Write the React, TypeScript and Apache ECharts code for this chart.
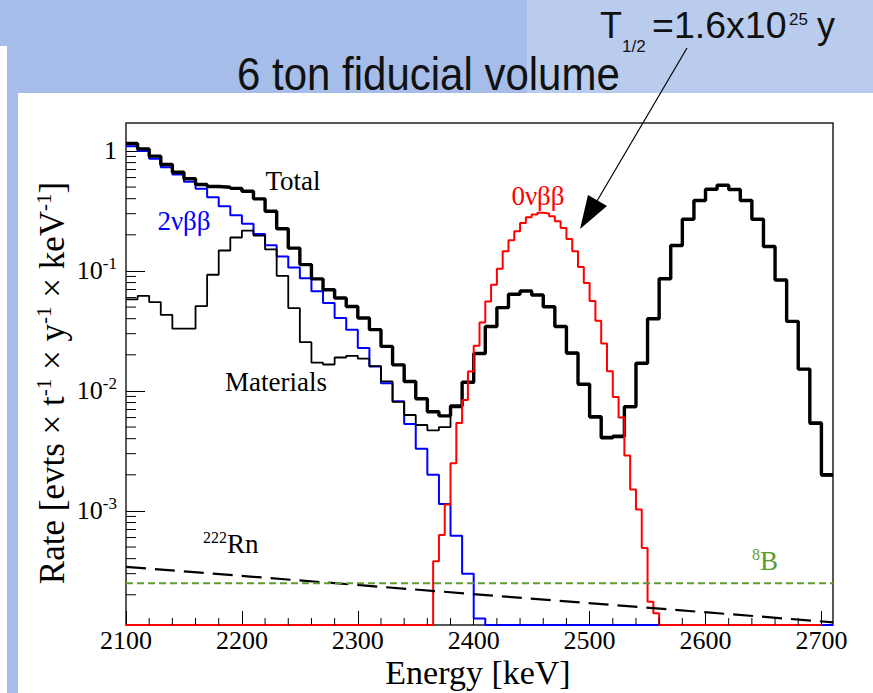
import React, { useEffect, useRef } from "react";
import * as echarts from "echarts";

const ENERGY_START = 2100;
const ENERGY_END = 2710;
const BIN_WIDTH = 10;
const ZERO_NU_START = 2365;
const ZERO_NU_BIN = 5;
const ZERO_NU_RANGE_END = 2700;
const RATE_MIN = 1.12e-4;
const RATE_MAX = 1.71;

// 10 keV bins starting at 2100 keV
const totalRate = [
  1.155, 1.04, 0.905, 0.771, 0.665, 0.586, 0.525, 0.505, 0.499, 0.488,
  0.462, 0.399, 0.314, 0.225, 0.155, 0.113, 0.0858, 0.0698, 0.0595, 0.0506,
  0.0405, 0.0324, 0.0235, 0.0165, 0.012, 0.0086, 0.0067, 0.0062, 0.0075, 0.0118,
  0.0205, 0.0344, 0.0495, 0.064, 0.068, 0.063, 0.0503, 0.0344, 0.0207, 0.0114,
  0.0061, 0.0041, 0.0042, 0.0074, 0.017, 0.04, 0.086, 0.163, 0.27, 0.387,
  0.48, 0.518, 0.477, 0.387, 0.27, 0.16, 0.084, 0.038, 0.0152, 0.0054,
  0.002,
];
const twoNuRate = [
  1.097, 1.0, 0.86, 0.733, 0.636, 0.553, 0.484, 0.411, 0.346, 0.291,
  0.247, 0.203, 0.164, 0.132, 0.107, 0.087, 0.0676, 0.054, 0.0405, 0.0324,
  0.0228, 0.016, 0.0116, 0.0082, 0.0053, 0.0033, 0.002, 0.00114, 0.00062, 0.0003,
  0.000127, 0, 0, 0, 0, 0, 0, 0, 0, 0,
  0, 0, 0, 0, 0, 0, 0, 0, 0, 0,
  0, 0, 0, 0, 0, 0, 0, 0, 0, 0,
  0,
];
const materialsRate = [
  0.058, 0.062, 0.055, 0.043, 0.033, 0.033, 0.051, 0.093, 0.148, 0.19,
  0.217, 0.197, 0.151, 0.091, 0.049, 0.0255, 0.0172, 0.0166, 0.019, 0.0196,
  0.0186, 0.0161, 0.012, 0.0081, 0.0063, 0.0052, 0.0047, 0.005, 0.0073, 0.0116,
  0.0203, 0.0342, 0.0493, 0.0638, 0.0678, 0.0628, 0.0501, 0.0342, 0.0205, 0.0112,
  0.006, 0.004, 0.0041, 0.0073, 0.0169, 0.0398, 0.0858, 0.1625, 0.2695, 0.3865,
  0.4795, 0.5175, 0.4765, 0.3865, 0.2695, 0.1595, 0.0838, 0.0378, 0.0151, 0.0053,
  0.00196,
];
// 5 keV bins starting at 2365 keV
const zeroNuRate = [
  3.8e-4, 6.3e-4, 1.13e-3, 2.5e-3, 5.4e-3, 8.4e-3, 0.0145, 0.0238, 0.0372, 0.0557,
  0.0769, 0.1045, 0.146, 0.18, 0.214, 0.251, 0.28, 0.295, 0.305, 0.301,
  0.286, 0.26, 0.228, 0.185, 0.146, 0.108, 0.0793, 0.0562, 0.0384, 0.0248,
  0.0146, 0.0089, 0.006, 0.0029, 0.00151, 0.00103, 4.9e-4, 1.75e-4, 1.4e-4,
];
const radonEnergy = [2100, 2710];
const radonRate = [3.42e-4, 1.18e-4];
const boronEnergy = [2100, 2710];
const boronRate = [2.49e-4, 2.49e-4];

const xMinorTickValues = [
  2120, 2140, 2160, 2180, 2220, 2240, 2260, 2280, 2320, 2340, 2360, 2380,
  2420, 2440, 2460, 2480, 2520, 2540, 2560, 2580, 2620, 2640, 2660, 2680,
];
const yMinorTickValues = [
  2e-4, 3e-4, 4e-4, 5e-4, 6e-4, 7e-4, 8e-4, 9e-4,
  2e-3, 3e-3, 4e-3, 5e-3, 6e-3, 7e-3, 8e-3, 9e-3,
  2e-2, 3e-2, 4e-2, 5e-2, 6e-2, 7e-2, 8e-2, 9e-2,
  0.2, 0.3, 0.4, 0.5, 0.6, 0.7, 0.8, 0.9,
];

const SERIF = "Liberation Serif";
const SANS = "Liberation Sans";

const floorOf = (v: number) => (v > 0 ? v : RATE_MIN);
function histogram(start: number, width: number, vals: number[]) {
  const pts: number[][] = vals.map((v, i) => [start + i * width, floorOf(v)]);
  pts.push([start + vals.length * width, floorOf(vals[vals.length - 1])]);
  return pts;
}

function tickSeries(data: number[][], dx: number, dy: number) {
  return {
    type: "custom",
    silent: true,
    clip: false,
    z: 10,
    data,
    renderItem: (_params: any, api: any) => {
      const p = api.coord([api.value(0), api.value(1)]);
      return {
        type: "line",
        shape: { x1: p[0], y1: p[1], x2: p[0] + dx, y2: p[1] + dy },
        style: { stroke: "#000", lineWidth: 1 },
      };
    },
  };
}

function histSeries(name: string, data: number[][], color: string, width: number) {
  return {
    name,
    type: "line",
    step: "end",
    symbol: "none",
    showSymbol: false,
    clip: false,
    silent: true,
    data,
    lineStyle: { color, width },
  };
}

const centered = { align: "center", verticalAlign: "middle", textAlign: "center", textVerticalAlign: "middle" };
const leftMid = { align: "left", verticalAlign: "middle", textAlign: "left", textVerticalAlign: "middle" };

export default function App() {
  const ref = useRef<HTMLDivElement>(null);
  useEffect(() => {
    if (!ref.current) return;
    const chart = echarts.init(ref.current, undefined, { renderer: "svg" });

    const zeroNuPoints = [
      [ENERGY_START, RATE_MIN],
      ...histogram(ZERO_NU_START, ZERO_NU_BIN, zeroNuRate),
      [ZERO_NU_START + zeroNuRate.length * ZERO_NU_BIN, RATE_MIN],
      [ZERO_NU_RANGE_END, RATE_MIN],
    ];

    const supRich = {
      n: { fontFamily: SERIF, fontSize: 26, lineHeight: 26, color: "#000" },
      e: { fontFamily: SERIF, fontSize: 17, lineHeight: 17, padding: [0, 0, 14, 0], color: "#000" },
    };

    const option: any = {
      animation: false,
      backgroundColor: "#fff",
      textStyle: { fontFamily: SERIF },
      grid: {
        left: 126,
        top: 123,
        width: 707,
        height: 502,
        show: true,
        borderColor: "#222",
        borderWidth: 1.5,
        backgroundColor: "#fff",
        containLabel: false,
      },
      xAxis: {
        type: "value",
        min: ENERGY_START,
        max: ENERGY_END,
        interval: 100,
        axisLine: { show: false },
        splitLine: { show: false },
        axisTick: { show: true, inside: true, length: 14, lineStyle: { color: "#000", width: 1 } },
        axisLabel: {
          showMaxLabel: false,
          margin: 5,
          formatter: (v: number) => "{n|" + String(Math.round(v)) + "}",
          rich: {
            n: { fontFamily: SERIF, fontSize: 26, lineHeight: 20, color: "#000" },
          },
        },
      },
      yAxis: {
        type: "log",
        logBase: 10,
        min: RATE_MIN,
        max: RATE_MAX,
        axisLine: { show: false },
        splitLine: { show: false },
        axisTick: { show: true, inside: true, length: 19, lineStyle: { color: "#000", width: 1 } },
        axisLabel: {
          showMinLabel: false,
          showMaxLabel: false,
          margin: 9,
          formatter: (v: number) => {
            const e = Math.round(Math.log10(v));
            if (e === 0) return "{n|1}";
            return "{n|10}{e|" + e + "}";
          },
          rich: supRich,
        },
      },
      series: [
        histSeries("2νββ", histogram(ENERGY_START, BIN_WIDTH, twoNuRate), "#0000ff", 2),
        histSeries("Materials", histogram(ENERGY_START, BIN_WIDTH, materialsRate), "#000", 1.8),
        histSeries("Total", histogram(ENERGY_START, BIN_WIDTH, totalRate), "#000", 3.4),
        histSeries("0νββ", zeroNuPoints, "#ff0000", 2),
        {
          name: "222Rn",
          type: "line",
          symbol: "none",
          silent: true,
          data: radonEnergy.map((e, i) => [e, radonRate[i]]),
          lineStyle: { color: "#000", width: 2.2, type: [20, 9] },
        },
        {
          name: "8B",
          type: "line",
          symbol: "none",
          silent: true,
          data: boronEnergy.map((e, i) => [e, boronRate[i]]),
          lineStyle: { color: "#5e9c2e", width: 2, type: [7, 4] },
        },
        tickSeries(xMinorTickValues.map((v) => [v, RATE_MIN]), 0, -7),
        tickSeries(yMinorTickValues.map((v) => [ENERGY_START, v]), 10, 0),
      ],
      graphic: [
        { type: "rect", z: -10, silent: true, shape: { x: 0, y: 0, width: 527, height: 46 }, style: { fill: "#a5bde8" } },
        { type: "rect", z: -10, silent: true, shape: { x: 7, y: 46, width: 520, height: 47 }, style: { fill: "#a5bde8" } },
        { type: "rect", z: -10, silent: true, shape: { x: 7, y: 46, width: 11, height: 647 }, style: { fill: "#a5bde8" } },
        { type: "rect", z: -10, silent: true, shape: { x: 527, y: 0, width: 346, height: 93 }, style: { fill: "#b9ccee" } },
        {
          type: "text", x: 237, y: 74, scaleY: 1.08, silent: true,
          style: { text: "6 ton fiducial volume", fontFamily: SANS, fontSize: 42, fill: "#111", ...leftMid },
        },
        { type: "text", x: 600, y: 25, silent: true,
          style: { text: "T", fontFamily: SANS, fontSize: 36, fill: "#111", ...leftMid } },
        { type: "text", x: 622, y: 46, silent: true,
          style: { text: "1/2", fontFamily: SANS, fontSize: 17, fill: "#111", ...leftMid } },
        { type: "text", x: 652, y: 25, silent: true,
          style: { text: "=1.6x10", fontFamily: SANS, fontSize: 37.5, fill: "#111", ...leftMid } },
        { type: "text", x: 789, y: 19, silent: true,
          style: { text: "25", fontFamily: SANS, fontSize: 17, fill: "#111", ...leftMid } },
        { type: "text", x: 817, y: 25, silent: true,
          style: { text: "y", fontFamily: SANS, fontSize: 36, fill: "#111", ...leftMid } },
        { type: "line", silent: true, shape: { x1: 687, y1: 48, x2: 597, y2: 201 }, style: { stroke: "#000", lineWidth: 1.2 } },
        { type: "polygon", silent: true, shape: { points: [[580, 229], [588, 195], [607, 206]] }, style: { fill: "#000" } },
        {
          type: "text", x: 293, y: 181, silent: true, z: 20,
          style: { text: "Total", fontFamily: SERIF, fontSize: 27, fill: "#000", ...centered },
        },
        {
          type: "text", x: 184, y: 221, silent: true, z: 20,
          style: { text: "2νββ", fontFamily: SERIF, fontSize: 27, fill: "#0000ff", ...centered },
        },
        {
          type: "text", x: 276, y: 382, silent: true, z: 20,
          style: { text: "Materials", fontFamily: SERIF, fontSize: 27, fill: "#000", ...centered },
        },
        {
          type: "text", x: 538, y: 196, silent: true, z: 20,
          style: { text: "0νββ", fontFamily: SERIF, fontSize: 27, fill: "#ff0000", ...centered },
        },
        {
          type: "text", x: 203, y: 544, silent: true, z: 20,
          style: {
            text: "{s|222}{m|Rn}", ...leftMid,
            rich: {
              m: { fontFamily: SERIF, fontSize: 27, lineHeight: 27, fill: "#000", color: "#000" },
              s: { fontFamily: SERIF, fontSize: 16, lineHeight: 16, padding: [0, 0, 14, 0], fill: "#000", color: "#000" },
            },
          },
        },
        {
          type: "text", x: 752, y: 561, silent: true, z: 20,
          style: {
            text: "{s|8}{m|B}", ...leftMid,
            rich: {
              m: { fontFamily: SERIF, fontSize: 27, lineHeight: 27, fill: "#5e9c2e", color: "#5e9c2e" },
              s: { fontFamily: SERIF, fontSize: 16, lineHeight: 16, padding: [0, 0, 14, 0], fill: "#5e9c2e", color: "#5e9c2e" },
            },
          },
        },
        {
          type: "text", x: 478, y: 672, silent: true,
          style: { text: "Energy [keV]", fontFamily: SERIF, fontSize: 34, lineHeight: 30, fill: "#000", ...centered },
        },
        {
          type: "text", x: 52, y: 383, rotation: Math.PI / 2, silent: true,
          style: {
            text: "{m|Rate [evts × t}{s|-1}{m| × y}{s|-1}{m| × keV}{s|-1}{m|]}",
            ...centered,
            rich: {
              m: { fontFamily: SERIF, fontSize: 35, lineHeight: 35, fill: "#000", color: "#000" },
              s: { fontFamily: SERIF, fontSize: 21, lineHeight: 21, padding: [0, 0, 17, 0], fill: "#000", color: "#000" },
            },
          },
        },
      ],
    };
    chart.setOption(option);
    return () => chart.dispose();
  }, []);
  return (
    <div
      ref={ref}
      style={{ position: "absolute", left: 0, top: 0, width: 873, height: 693, background: "#fff" }}
    />
  );
}
